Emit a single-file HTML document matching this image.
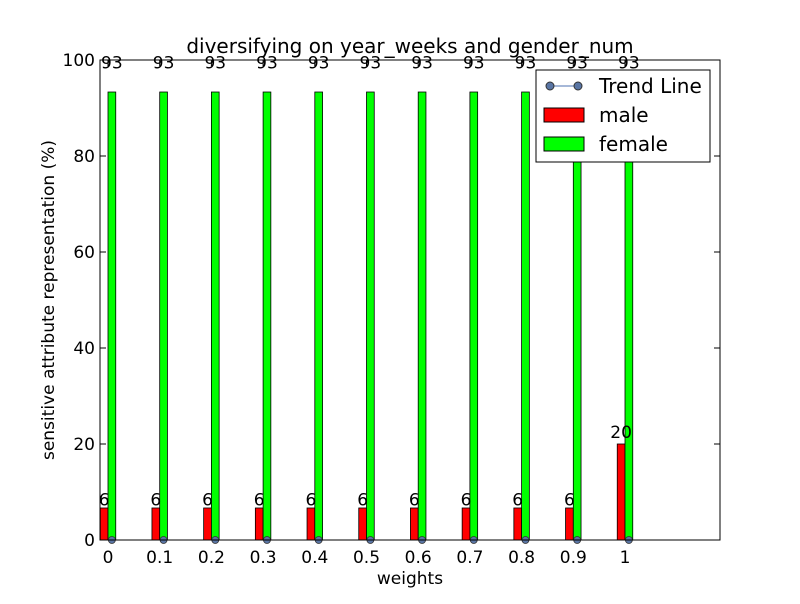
<!DOCTYPE html>
<html><head><meta charset="utf-8"><style>
body{margin:0;background:#fff;font-family:"DejaVu Sans","Liberation Sans",sans-serif}
</style></head><body>
<svg id="chart" width="800" height="600" xmlns="http://www.w3.org/2000/svg" font-family="DejaVu Sans, Liberation Sans, sans-serif">
<rect width="800" height="600" fill="#fff"/>
<text x="410" y="53" text-anchor="middle" font-size="20">diversifying on year_weeks and gender_num</text>
<g id="plot"></g>
<rect x="100" y="60" width="620" height="480" fill="none" stroke="#000" stroke-width="1"/>
<text transform="translate(54,300) rotate(-90)" text-anchor="middle" font-size="17">sensitive attribute representation (%)</text>
<text x="410" y="584" text-anchor="middle" font-size="17">weights</text>
<g>
<rect x="536" y="70" width="174" height="92" fill="#fff" stroke="#000"/>
<line x1="550" y1="86" x2="578" y2="86" stroke="#4c72b0" stroke-width="1"/>
<circle cx="550" cy="86" r="4" fill="#5975a4" stroke="#333"/>
<circle cx="578" cy="86" r="4" fill="#5975a4" stroke="#333"/>
<text x="599" y="93" font-size="20">Trend Line</text>
<rect x="544" y="108" width="40" height="14" fill="#ff0000" stroke="#000"/>
<text x="599" y="122" font-size="20">male</text>
<rect x="544" y="137" width="40" height="14" fill="#00ff00" stroke="#000"/>
<text x="599" y="151" font-size="20">female</text>
</g>
</svg>
<script>
const categories=["0","0.1","0.2","0.3","0.4","0.5","0.6","0.7","0.8","0.9","1"];
const xValues=[0,0.1,0.2,0.3,0.4,0.5,0.6,0.7,0.8,0.9,1];
const male=[6.67,6.67,6.67,6.67,6.67,6.67,6.67,6.67,6.67,6.67,20];
const female=[93.33,93.33,93.33,93.33,93.33,93.33,93.33,93.33,93.33,93.33,93.33];
const trend=[0,0,0,0,0,0,0,0,0,0,0];
const yTicks=[0,20,40,60,80,100];
const NS="http://www.w3.org/2000/svg";
const g=document.getElementById('plot');
const xs=v=>108+v*517;
const ys=v=>540-v*4.8;
const bw=0.015*517;
function mk(t,a){const e=document.createElementNS(NS,t);for(const k in a)e.setAttribute(k,a[k]);g.appendChild(e);return e;}
yTicks.forEach(t=>{
 const y=ys(t);
 let l=mk('line',{x1:100,x2:106,y1:y,y2:y,stroke:'#000'});
 
 
 l=mk('line',{x1:714,x2:720,y1:y,y2:y,stroke:'#000'});
 
 
 const tx=mk('text',{x:95,y:y+6,'text-anchor':'end','font-size':17});tx.textContent=t;
 
 
});
xValues.forEach((v,i)=>{
 const x=xs(v);
 let l=mk('line',{x1:x,x2:x,y1:540,y2:534,stroke:'#000'});
 
 
 l=mk('line',{x1:x,x2:x,y1:60,y2:66,stroke:'#000'});
 
 
 const tx=mk('text',{x:x,y:563,'text-anchor':'middle','font-size':17});tx.textContent=categories[i];
 
 
 const m=mk('rect',{x:x-bw,y:ys(male[i]),width:bw,height:ys(0)-ys(male[i]),fill:'#ff0000',stroke:'#000','stroke-width':0.8});
 
 
 const f=mk('rect',{x:x,y:ys(female[i]),width:bw,height:ys(0)-ys(female[i]),fill:'#00ff00',stroke:'#000','stroke-width':0.8});
 
 
 const ml=mk('text',{x:x-bw/2,y:ys(male[i]*1.05)-1,'text-anchor':'middle','font-size':17});ml.textContent=Math.floor(male[i]);
 
 
 const fl=mk('text',{x:x+bw/2,y:ys(female[i]*1.05)-1,'text-anchor':'middle','font-size':17});fl.textContent=Math.floor(female[i]);
 
 
});
const pts=xValues.map((v,i)=>(xs(v)+bw/2)+','+ys(trend[i])).join(' ');
const pl=mk('polyline',{points:pts,fill:'none',stroke:'#4c72b0','stroke-width':1});


xValues.forEach((v,i)=>{
 const c=mk('circle',{cx:xs(v)+bw/2,cy:ys(trend[i]),r:3.5,fill:'#5975a4',stroke:'#333','stroke-width':0.8});
 
 
});
</script>
</body></html>
